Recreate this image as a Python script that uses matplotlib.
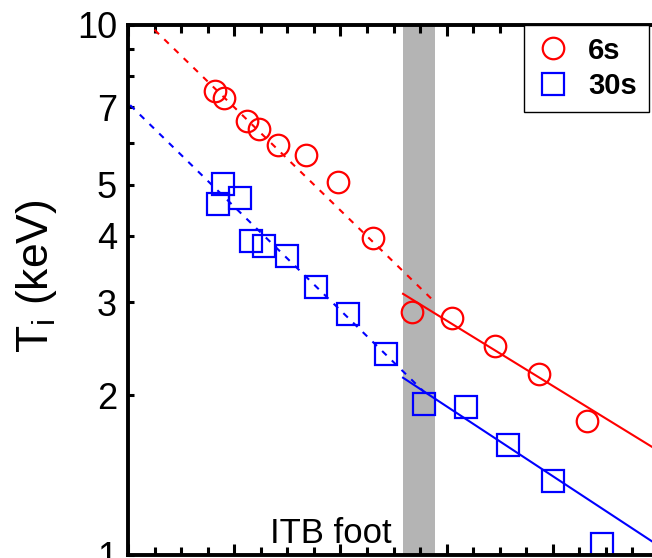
import numpy as np
import matplotlib.pyplot as plt
from matplotlib.ticker import FixedLocator, MultipleLocator, NullFormatter

plt.rcParams['font.family'] = ['Liberation Sans', 'DejaVu Sans']
plt.rcParams['mathtext.default'] = 'regular'

# measured profiles (normalised radius, keV)
r_6s = [0.082, 0.090, 0.112, 0.123, 0.141, 0.168, 0.198, 0.231, 0.267, 0.305, 0.346, 0.387, 0.432]
ti_6s = [7.51, 7.28, 6.59, 6.37, 5.94, 5.68, 5.06, 3.96, 2.87, 2.80, 2.48, 2.20, 1.79]

r_30s = [0.089, 0.085, 0.105, 0.116, 0.128, 0.150, 0.177, 0.207, 0.243, 0.279, 0.318, 0.358, 0.400, 0.446]
ti_30s = [5.01, 4.60, 4.72, 3.91, 3.83, 3.67, 3.20, 2.85, 2.39, 1.93, 1.90, 1.61, 1.38, 1.05]

# exponential fits inside / outside the ITB foot
fit_r_6s_in = [0.025, 0.289]
fit_ti_6s_in = [9.79, 3.00]
fit_r_6s_out = [0.259, 0.50]
fit_ti_6s_out = [3.11, 1.57]
fit_r_30s_in = [0.002, 0.280]
fit_ti_30s_in = [7.06, 2.02]
fit_r_30s_out = [0.259, 0.50]
fit_ti_30s_out = [2.16, 1.04]

itb_foot = [0.259, 0.289]

fig = plt.figure(figsize=(6.52, 5.58), dpi=100)
ax = fig.add_axes([128/652, 3/558, 531/652, 530/558])

ax.axvspan(itb_foot[0], itb_foot[1], color='#b4b4b4', lw=0, zorder=0)

ax.plot(fit_r_6s_in, fit_ti_6s_in, color='red', lw=1.5, ls=(0, (3, 3.5)))
ax.plot(fit_r_6s_out, fit_ti_6s_out, color='red', lw=1.5)
ax.plot(fit_r_30s_in, fit_ti_30s_in, color='blue', lw=1.5, ls=(0, (3, 3.5)))
ax.plot(fit_r_30s_out, fit_ti_30s_out, color='blue', lw=1.5)

h1, = ax.plot(r_6s, ti_6s, 'o', ls='none', mfc='none', mec='red', ms=15.5, mew=1.6, label='6s')
h2, = ax.plot(r_30s, ti_30s, 's', ls='none', mfc='none', mec='blue', ms=15.5, mew=1.6, label='30s')

ax.set_yscale('log')
ax.set_ylim(1, 10)
ax.set_xlim(0, 0.5)

ax.yaxis.set_major_locator(FixedLocator([1, 2, 3, 4, 5, 7, 10]))
ax.yaxis.set_minor_locator(FixedLocator([6, 8, 9]))
ax.set_yticklabels(['1', '2', '3', '4', '5', '7', '10'])
ax.yaxis.set_minor_formatter(NullFormatter())
ax.xaxis.set_major_locator(MultipleLocator(0.1))
ax.xaxis.set_minor_locator(MultipleLocator(0.025))

ax.tick_params(which='both', direction='in', top=True, right=False,
               labelbottom=False, width=2.2, labelsize=26, pad=8)
ax.xaxis.set_tick_params(which='major', length=8)
ax.xaxis.set_tick_params(which='minor', length=6)
ax.yaxis.set_tick_params(which='both', length=4)

for s in ax.spines.values():
    s.set_linewidth(2.8)

ax.set_ylabel('T$_i$ (keV)', fontsize=32)
ax.yaxis.set_label_coords(-0.13, 0.526)

ax.text(0.134, 1.053, 'ITB foot', fontsize=25, va='baseline', ha='left')

leg = ax.legend(handles=[h1, h2], loc='upper left', bbox_to_anchor=(0.7458, 1.0),
                borderaxespad=0, fancybox=False, edgecolor='black', framealpha=1,
                prop={'size': 21, 'weight': 'bold'}, handletextpad=0.6,
                handlelength=1.2, labelspacing=0.25, borderpad=0.4)
leg.get_frame().set_linewidth(1.0)

fig.savefig('out.png', dpi=100)
